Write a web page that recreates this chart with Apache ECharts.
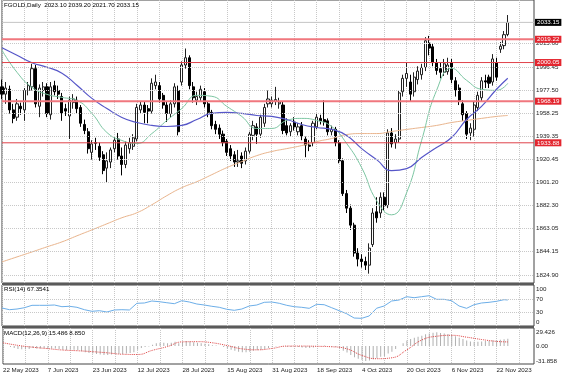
<!DOCTYPE html>
<html>
<head>
<meta charset="utf-8">
<title>FGOLD Daily</title>
<script src="https://cdn.jsdelivr.net/npm/echarts@6/dist/echarts.min.js"></script>
<style>
  html, body { margin: 0; padding: 0; background: #fff; }
  #chart { width: 564px; height: 376px; }
</style>
</head>
<body>
<div id="chart"></div>
<script>
// daily candles, one per trading day from 22 May 2023
var opens = [
  1980, 1974, 1978, 1961, 1955, 1964, 1961, 1977, 1980, 1995,
  1964, 1977, 1980, 1957, 1981, 1977, 1972, 1962, 1956, 1967,
  1969, 1963, 1949, 1943, 1926, 1934, 1931, 1924, 1913, 1918,
  1929, 1937, 1923, 1916, 1929, 1931, 1937, 1961, 1965, 1962,
  1960, 1981, 1981, 1973, 1965, 1958, 1966, 1977, 1984, 1998,
  2004, 1980, 1969, 1971, 1976, 1966, 1959, 1949, 1946, 1941,
  1935, 1929, 1924, 1918, 1923, 1919, 1927, 1940, 1947, 1941,
  1950, 1966, 1966, 1968, 1966, 1965, 1948, 1943, 1951, 1943,
  1948, 1937, 1932, 1934, 1947, 1954, 1953, 1952, 1943, 1945,
  1934, 1919, 1892, 1880, 1866, 1843, 1838, 1836, 1833, 1850,
  1877, 1876, 1889, 1882, 1942, 1934, 1937, 1976, 1987, 1984,
  1976, 1986, 1990, 1996, 2016, 2013, 2000, 1995, 1992, 1992.5,
  2000, 1985, 1979, 1966, 1958, 1942, 1945, 1963, 1971, 1985,
  1988, 1984, 2000, 2011, 2014, 2023.10
];
var highs = [
  1986, 1984, 1981, 1966, 1970, 1967, 1979, 1984, 1999, 1998,
  1982, 1984, 1983, 1984, 1985, 1981, 1975, 1966, 1972, 1974,
  1972, 1965, 1953, 1946, 1936, 1938, 1934, 1927, 1926, 1930,
  1939, 1942, 1930, 1935, 1938, 1941, 1966, 1968, 1968, 1965,
  1987, 1990, 1984, 1975, 1968, 1969, 1983, 1981, 2001, 2011.6,
  2006, 1984, 1976, 1981, 1979, 1968, 1961, 1952, 1949, 1944,
  1937, 1932, 1927, 1928, 1926, 1930, 1943, 1952, 1950, 1957,
  1966, 1977, 1972, 1980, 1971, 1968, 1954, 1950, 1955, 1950,
  1951, 1939, 1936, 1952, 1958, 1957, 1969, 1954, 1948, 1947,
  1936, 1921, 1895, 1883, 1868, 1847, 1842, 1840, 1851, 1880,
  1889, 1893, 1893, 1945, 1946, 1941, 1977, 1990, 2000, 1990,
  1992, 1997, 1999, 2021, 2022, 2016, 2003, 2000, 2003, 2004,
  2003, 1988, 1982, 1969, 1960, 1950, 1968, 1976, 1988, 1990,
  1990, 2007, 2004, 2017, 2026, 2039.20
];
var lows = [
  1970, 1966, 1958, 1950, 1952, 1957, 1952, 1973, 1977, 1963,
  1955, 1972, 1955, 1953, 1973, 1970, 1952, 1956, 1937, 1962,
  1958, 1947, 1941, 1925, 1920, 1928, 1919, 1908, 1901, 1913,
  1926, 1920, 1907, 1913, 1925, 1928, 1935, 1958, 1950, 1950,
  1958, 1978, 1967, 1962, 1951, 1955, 1963, 1940, 1981, 1995,
  1978, 1967, 1965, 1968, 1963, 1955, 1945, 1941, 1937, 1931,
  1923, 1919, 1914, 1914, 1913, 1916, 1925, 1936, 1933, 1938,
  1947, 1963, 1963, 1965, 1962, 1941, 1940, 1939, 1944, 1940,
  1936, 1922, 1927, 1931, 1945, 1949, 1948, 1940, 1940, 1931,
  1917, 1890, 1876, 1862, 1840, 1832, 1831, 1829, 1826, 1848,
  1868, 1872, 1878, 1880, 1930, 1929, 1934, 1972, 1980, 1968,
  1972, 1982, 1986, 1993, 2006, 1997, 1990, 1987, 1989, 1990,
  1983, 1972, 1965, 1952, 1937, 1936, 1939, 1960, 1968, 1979,
  1979, 1981, 1985, 2008, 2011, 2021.70
];
var closes = [
  1974, 1979, 1961, 1954, 1966, 1962, 1977, 1981, 1995, 1966,
  1979, 1980, 1958, 1980, 1976, 1974, 1958, 1960, 1969, 1970,
  1962, 1950, 1944, 1929, 1933, 1933.5, 1922, 1911, 1919, 1928,
  1936, 1923, 1916, 1932, 1934, 1938, 1963, 1965, 1959, 1960,
  1983, 1984, 1970, 1965, 1958, 1966, 1980, 1943, 1998, 2004,
  1981, 1971, 1972, 1978, 1966, 1959, 1948, 1945, 1941, 1934,
  1926, 1923, 1918, 1919, 1917, 1927, 1941, 1948, 1941, 1955,
  1963, 1970, 1969, 1969.5, 1967.5, 1944, 1942, 1948, 1947, 1947,
  1939, 1932, 1931, 1950, 1955, 1952, 1951, 1943, 1945, 1934,
  1919, 1892, 1880, 1866, 1843, 1838, 1836, 1833, 1847, 1876,
  1872, 1889, 1882, 1942, 1933, 1937, 1975, 1987, 1991, 1974,
  1988, 1993, 1996, 2018, 2012, 2000, 1993.5, 1992, 1999, 1998,
  1986, 1977, 1969, 1957, 1941, 1946, 1965, 1973, 1985, 1984,
  1983, 2003, 1988, 2013.5, 2023, 2033.15
];

// moving averages read every 4th bar (last point = last bar)
var maStep = 4;
var maBlue = [
  2012.3, 2006.1, 1999.9, 1996.2, 1991.2, 1981.3, 1970.5, 1962.2, 1954.8, 1950.6,
  1948.2, 1947.3, 1948.2, 1953.1, 1958.1, 1958.9, 1958.1, 1956.4, 1955.6, 1953.1,
  1949.0, 1946.5, 1944.9, 1939.9, 1929.1, 1920.0, 1910.9, 1912.6, 1921.7, 1930.0,
  1938.2, 1953.1, 1963.9, 1978.0, 1987.1
];
var maGreen = [
  2010.2, 1992.0, 1979.6, 1973.8, 1971.3, 1968.8, 1958.1, 1942.4, 1935.8, 1933.3,
  1941.5, 1952.3, 1962.2, 1973.0, 1972.2, 1963.9, 1955.6, 1945.7, 1945.7, 1952.3,
  1954.0, 1952.3, 1947.3, 1933.3, 1913.4, 1886.1, 1874.5, 1892.7, 1935.8, 1977.1,
  1995.3, 1985.4, 1978.0, 1977.1, 1982.9
];
var maTan = [
  1835.7, 1839.8, 1843.9, 1848.1, 1852.2, 1857.2, 1862.1, 1867.1, 1872.1, 1876.2,
  1882.8, 1890.3, 1896.9, 1901.8, 1907.6, 1913.4, 1918.4, 1923.3, 1926.7, 1929.1,
  1931.6, 1934.9, 1937.4, 1940.7, 1941.5, 1941.5, 1943.2, 1944.9, 1946.5, 1948.2,
  1950.6, 1952.3, 1954.0, 1955.6, 1956.4
];

// RSI(14) every 2nd bar
var rsiStep = 2;
var rsiValues = [
  43.6, 38.6, 40.6, 44.5, 51.6, 51.6, 51.6, 52.5, 47.5, 48.7,
  45.7, 38.6, 33.8, 35.6, 31.8, 37.7, 38.6, 37.7, 57.6, 58.5,
  64.4, 62.3, 59.3, 56.4, 65.3, 61.4, 55.5, 52.5, 48.7, 45.7,
  39.8, 36.8, 40.6, 49.6, 52.5, 60.5, 61.4, 57.6, 51.6, 47.5,
  45.7, 42.7, 54.6, 53.4, 44.5, 35.6, 26.7, 13.9, 13.0, 19.9,
  43.0, 49.6, 64.4, 67.4, 77.2, 74.2, 77.2, 80.1, 69.4, 69.4,
  65.3, 49.6, 42.7, 53.4, 58.5, 60.5, 63.5, 68.3, 67.3541
];

// MACD(12,26,9): main per bar, signal every 4th bar
var macdMain = [
  2, 0, -2, -4, -6, -7, -7, -6, -4, -5,
  -5, -4, -6, -5, -5, -6, -8, -9, -8, -8,
  -9, -11, -13, -15, -16, -17, -18, -19, -19, -18,
  -17, -17, -17, -16, -15, -13, -8, -4, -2, -1,
  3, 6, 7, 7, 6, 7, 9, 6, 9, 11,
  10, 8, 7, 6, 5, 4, 2, 1, 0, -2,
  -5, -8, -10, -12, -13, -13, -12, -10, -9, -8,
  -6, -4, -2, -1, 0, -1, -2, -2, -2, -2,
  -3, -4, -4, -3, -1, 0, 1, 0, -1, -2,
  -5, -10, -14, -19, -24, -27, -30, -31.858, -31, -28,
  -26, -23, -21, -16, -12, -6, 0, 6, 12, 15,
  18, 20, 22, 25, 27, 28.5, 29.426, 28, 27, 26,
  24, 21, 18, 15, 12, 10, 9, 9, 10, 11,
  11, 12.5, 12.5, 13.5, 14.5, 15.486
];
var macdSignal = [
  7, 1.5, -2.5, -5.5, -8.5, -10, -12, -14.5, -17.5, -18,
  -9, -1, 9, 9.4, 7, 1, -6, -8, -5, 0,
  0, -0.5, -1.5, -6, -20, -27, -25, -8, 13, 21,
  23, 19, 14, 10, 8.85
];

var priceTicks = ['2015.60', '1996.45', '1977.50', '1958.25', '1939.35', '1920.45',
                  '1901.20', '1882.30', '1863.05', '1844.15', '1824.90'];
var levels = [2019.22, 2000.05, 1968.19, 1933.88];
var rsiTicks = ['100', '70', '30', '0'];
var macdTicks = ['29.426', '0.00', '-31.858'];
var dateLabels = ['22 May 2023', '7 Jun 2023', '23 Jun 2023', '12 Jul 2023', '28 Jul 2023',
                  '15 Aug 2023', '31 Aug 2023', '18 Sep 2023', '4 Oct 2023', '20 Oct 2023',
                  '6 Nov 2023', '22 Nov 2023'];

var FONT = 'Liberation Sans, Arial, sans-serif';
var FS = 6.2;
var last = closes.length - 1;
var N = 143; // bars plus empty space on the right

var cats = [];
for (var i = 0; i < N; i++) cats.push(String(i));

function onBars(vals, step) {
    return vals.map(function (v, k) { return [Math.min(k * step, last), v]; });
}

var candles = opens.map(function (o, i) { return [o, closes[i], lows[i], highs[i]]; });

function plainLabel() {
    return { show: true, position: 'end', distance: 2, formatter: '{b}', color: '#222', fontSize: FS, fontFamily: FONT };
}
function dots() { return { color: '#c8c8c8', type: 'dotted', width: 1 }; }
function noLine() { return { color: 'rgba(255,255,255,0)', width: 0, type: 'solid' }; }

// invisible carrier series for tick lines and their labels
function carrier(gi, z, ticks, lineStyle) {
    return { type: 'line', xAxisIndex: gi, yAxisIndex: gi, data: closes, z: z, silent: true,
             showSymbol: false, lineStyle: { width: 0, color: 'rgba(255,255,255,0)' },
             markLine: { symbol: 'none', silent: true, animation: false, lineStyle: lineStyle, label: plainLabel(),
                         data: ticks.map(function (t) { return { yAxis: parseFloat(t), name: t }; }) } };
}

// full width price line with a boxed label on the price scale
function priceLine(v, color, width, box) {
    return {
        type: 'line', xAxisIndex: 0, yAxisIndex: 0, z: 5, silent: true, showSymbol: false,
        data: [[0, v], [N - 1, v]],
        itemStyle: { color: color },
        lineStyle: { color: color, width: width, type: 'solid' },
        endLabel: { show: true, distance: 1, formatter: v.toFixed(2), color: '#fff', backgroundColor: box,
                    padding: [1, 2, 0, 2], fontSize: FS, fontFamily: FONT }
    };
}

function xAxisFor(gi, withLabels) {
    return {
        type: 'category', gridIndex: gi, data: cats, boundaryGap: false,
        axisLine: { show: false }, axisTick: { show: false },
        axisLabel: withLabels ? {
            show: true, margin: 3, align: 'left', fontSize: FS, fontFamily: FONT, color: '#222',
            interval: function (idx) { return idx % 12 === 0 && idx / 12 < dateLabels.length; },
            formatter: function (v, idx) { return dateLabels[idx / 12] || ''; }
        } : { show: false },
        splitLine: { show: true, interval: function (idx) { return idx % 6 === 0; }, lineStyle: dots() }
    };
}
function yAxisFor(gi, min, max) {
    return { type: 'value', gridIndex: gi, min: min, max: max, position: 'right',
             axisLine: { show: false }, axisTick: { show: false }, axisLabel: { show: false }, splitLine: { show: false } };
}
function titleAt(text, top) {
    return { text: text, left: 4, top: top, padding: 0,
             textStyle: { fontSize: FS, fontWeight: 'normal', color: '#000', fontFamily: FONT } };
}

var headText = 'FGOLD,Daily  ' + [opens[last], highs[last], lows[last], closes[last]].map(function (v) { return v.toFixed(2); }).join(' ');
var rsiText = 'RSI(14) ' + rsiValues[rsiValues.length - 1].toFixed(4);
var macdText = 'MACD(12,26,9) ' + macdMain[last].toFixed(3) + ' ' + macdSignal[macdSignal.length - 1].toFixed(3);

var rsiLevels = rsiTicks.filter(function (t) { return t === '70' || t === '30'; });
var rsiEnds = rsiTicks.filter(function (t) { return t === '100' || t === '0'; });

var series = [
    carrier(0, 1, priceTicks, dots()),
    {
        type: 'candlestick', xAxisIndex: 0, yAxisIndex: 0, data: candles, z: 2, barWidth: 2.6,
        itemStyle: { color: '#ffffff', color0: '#000000', borderColor: '#222', borderColor0: '#000', borderWidth: 1 }
    },
    { type: 'line', xAxisIndex: 0, yAxisIndex: 0, data: onBars(maTan, maStep), z: 3, smooth: true,
      showSymbol: false, silent: true, lineStyle: { color: '#e9b48c', width: 1 } },
    { type: 'line', xAxisIndex: 0, yAxisIndex: 0, data: onBars(maGreen, maStep), z: 3, smooth: true,
      showSymbol: false, silent: true, lineStyle: { color: '#7cc6a2', width: 1 } },
    { type: 'line', xAxisIndex: 0, yAxisIndex: 0, data: onBars(maBlue, maStep), z: 3, smooth: true,
      showSymbol: false, silent: true, lineStyle: { color: '#5656c8', width: 1.2 } },
    priceLine(closes[last], '#c4c4c4', 1, '#000')
];
// red support / resistance levels
levels.forEach(function (v, k) {
    if (k % 2 === 0) series.push(priceLine(v, '#f0777e', 2, '#e3262f'));
    else series.push(priceLine(v, '#e0434b', 1, '#e3262f'));
});
series.push(
    carrier(1, 1, rsiLevels, dots()),
    carrier(1, 1, rsiEnds, noLine()),
    { type: 'line', xAxisIndex: 1, yAxisIndex: 1, data: onBars(rsiValues, rsiStep), z: 2, showSymbol: false, silent: true,
      lineStyle: { color: '#6caee8', width: 1 } },
    carrier(2, 1, macdTicks, noLine()),
    { type: 'bar', xAxisIndex: 2, yAxisIndex: 2, data: macdMain, z: 2, barWidth: 1, silent: true,
      itemStyle: { color: '#b0b0b0' } },
    { type: 'line', xAxisIndex: 2, yAxisIndex: 2, data: onBars(macdSignal, maStep), z: 3, smooth: true, showSymbol: false,
      silent: true, lineStyle: { color: '#e04646', width: 1, type: 'dotted' } }
);

var chart = echarts.init(document.getElementById('chart'), null, { renderer: 'canvas' });
chart.setOption({
    animation: false,
    backgroundColor: '#fff',
    title: [titleAt(headText, 2.5), titleAt(rsiText, 286), titleAt(macdText, 330)],
    grid: [
        { left: 2, top: 0, width: 532, height: 283, show: true, borderColor: '#444', borderWidth: 1 },
        { left: 2, top: 285, width: 532, height: 41, show: true, borderColor: '#444', borderWidth: 1 },
        { left: 2, top: 328, width: 532, height: 36, show: true, borderColor: '#444', borderWidth: 1 }
    ],
    xAxis: [xAxisFor(0, false), xAxisFor(1, false), xAxisFor(2, true)],
    yAxis: [yAxisFor(0, 1818.3, 2051.6), yAxisFor(1, -9.8, 111.9), yAxisFor(2, -38.3, 38.6)],
    graphic: [
        { type: 'rect', shape: { x: 2, y: 283, width: 532, height: 2 }, style: { fill: '#5a5a5a' }, silent: true },
        { type: 'rect', shape: { x: 2, y: 326, width: 532, height: 2 }, style: { fill: '#5a5a5a' }, silent: true }
    ],
    series: series
});
</script>
</body>
</html>
